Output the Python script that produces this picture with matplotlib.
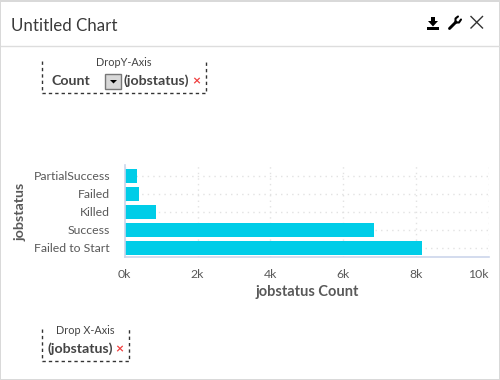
import matplotlib
matplotlib.use("Agg")
import matplotlib.pyplot as plt
from matplotlib.patches import Rectangle, Polygon

plt.rcParams['font.family'] = ['Lato', 'DejaVu Sans']

categories = ["Failed to Start", "Success", "Killed", "Failed", "PartialSuccess"]
counts = [8170, 6850, 860, 390, 330]
xticks = [0, 2000, 4000, 6000, 8000, 10000]
xticklabels = ["0k", "2k", "4k", "6k", "8k", "10k"]

W, H = 500, 380
fig = plt.figure(figsize=(W / 100, H / 100), dpi=100, facecolor="white")

# overlay in pixel coordinates for the panel furniture
ov = fig.add_axes([0, 0, 1, 1], zorder=0)
ov.set_xlim(0, W); ov.set_ylim(H, 0); ov.axis("off")

border = "#d9d9d9"
ov.add_patch(Rectangle((0, 0), W, 1.5, color=border, lw=0))
ov.add_patch(Rectangle((0, 378.5), W, 1.5, color=border, lw=0))
ov.add_patch(Rectangle((0, 0), 1.2, H, color=border, lw=0))
ov.add_patch(Rectangle((498.8, 0), 1.2, H, color=border, lw=0))
ov.plot([1, 499], [46, 46], color="#dddddd", lw=1)

dark = "#444444"
ov.text(11, 26, "Untitled Chart", fontsize=12.2, color="#3a3a3a", va="center", ha="left")

# toolbar icons
ov.add_patch(Rectangle((427, 27), 12, 3, color="black", lw=0))
ov.add_patch(Rectangle((431.3, 17), 3.4, 5, color="black", lw=0))
ov.add_patch(Polygon([[428, 21], [438, 21], [433, 26.5]], color="black", lw=0))
ov.plot([449.5, 456], [28.5, 22], color="black", lw=2.1, solid_capstyle="round")
ov.plot([455.5, 455.5, 458], [22.5, 18.5, 16.5], color="black", lw=1.5, solid_capstyle="round")
ov.plot([455.5, 459, 461], [22.5, 22.5, 19.5], color="black", lw=1.5, solid_capstyle="round")
ov.plot([471, 482.5], [16.5, 28], color="#333333", lw=1.0)
ov.plot([482.5, 471], [16.5, 28], color="#333333", lw=1.0)

dash = dict(color="#333333", lw=1, dashes=(2.4, 2.2))
# y drop zone
ov.plot([41.5, 41.5, 205.5, 205.5], [61, 93, 93, 61], **dash)
ov.text(123.5, 62, "DropY-Axis", fontsize=7.8, color=dark, ha="center", va="center")
ov.text(51, 81, "Count", fontsize=10.2, fontweight="bold", color=dark, va="center")
ov.add_patch(Rectangle((104.5, 73.5), 16, 15, facecolor="#d8d8d8", edgecolor="#777777", lw=1))
ov.add_patch(Polygon([[110, 80], [117, 80], [113.5, 83.5]], color="black", lw=0))
ov.text(124, 81, "(jobstatus)", fontsize=10.2, fontweight="bold", color=dark, va="center")
ov.text(196.5, 81, "×", fontsize=10, fontweight="bold", color="#f04040", ha="center", va="center")

# x drop zone
ov.plot([41.5, 41.5, 128.5, 128.5], [329, 361, 361, 329], **dash)
ov.text(85, 330, "Drop X-Axis", fontsize=7.8, color=dark, ha="center", va="center")
ov.text(47, 349, "(jobstatus)", fontsize=10.2, fontweight="bold", color=dark, va="center")
ov.text(119.5, 349, "×", fontsize=10, fontweight="bold", color="#f04040", ha="center", va="center")

# plot area: 0k at x=124.7, 10k at x=489; bands from y=167 to y=257
left, right, top, bottom = 124.7, 489, 165, 256.8
ax = fig.add_axes([left / W, 1 - bottom / H, (right - left) / W, (bottom - top) / H], zorder=1)
ax.patch.set_alpha(0)
ax.barh(categories, counts, height=14 / 18, color="#00cde8", zorder=3)
ax.set_xlim(0, 10000)
ax.set_ylim(-0.49, 4.61)
ax.set_xticks(xticks, xticklabels)
ax.tick_params(axis="both", length=0, labelsize=8.8, labelcolor="#595959")
ax.tick_params(axis="x", pad=8.5)
ax.tick_params(axis="y", pad=10.5)
ax.get_xticklabels()[-1].set_ha("right")
ax.grid(True, color="#e2e2e2", lw=1, ls=(0, (1, 3)), zorder=0)
for s in ("top", "right"):
    ax.spines[s].set_visible(False)
for s in ("left", "bottom"):
    ax.spines[s].set_color("#ccd6eb")
    ax.spines[s].set_linewidth(1.2)
    ax.spines[s].set_zorder(4)

ov.text(307.5, 292, "jobstatus Count", fontsize=10.5, fontweight="bold", color="#595959", ha="center", va="center")
ov.text(20.5, 212, "jobstatus", fontsize=10.3, fontweight="bold", color="#595959", ha="center", va="center", rotation=90)

fig.savefig("out.png", dpi=100, facecolor="white")
